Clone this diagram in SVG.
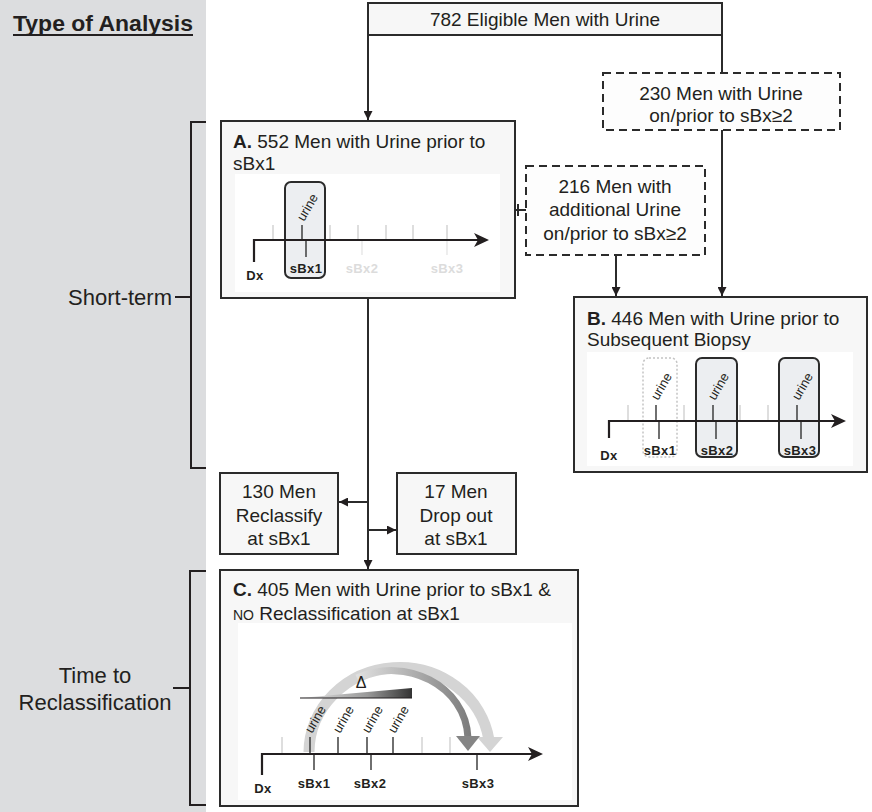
<svg xmlns="http://www.w3.org/2000/svg" width="872" height="812" viewBox="0 0 872 812">
<defs>
<style>
text{font-family:"Liberation Sans",Arial,sans-serif;fill:#231f20}
.t{font-size:19px}
.c{text-anchor:middle}
.box{fill:#f7f7f7;stroke:#2b2b2b;stroke-width:2}
.dash{fill:#fdfdfd;stroke:#2b2b2b;stroke-width:2;stroke-dasharray:8 5}
.panel{fill:#ffffff}
.ln{stroke:#2b2b2b;stroke-width:2;fill:none}
.ax{stroke:#231f20;stroke-width:2.2;fill:none}
.lt{stroke:#c8c8c8;stroke-width:1.2}
.dk{stroke:#333;stroke-width:1.4}
.fk{stroke:#e2e2e2;stroke-width:1.2}
.lab{font-size:13px;font-weight:bold;text-anchor:middle;letter-spacing:0.4px}
.fl{fill:#dcdcdc}
.ur{font-size:13px}
.rr{fill:#eceef1;stroke:#2b2b2b;stroke-width:2}
.br{stroke:#231f20;stroke-width:2;fill:none}
</style>
<marker id="ah" viewBox="0 0 10 10" refX="10" refY="5" markerWidth="9" markerHeight="9" markerUnits="userSpaceOnUse" orient="auto">
<path d="M0,0 L10,5 L0,10 z" fill="#231f20"/>
</marker>
<linearGradient id="wg" x1="0" y1="0" x2="1" y2="0">
<stop offset="0" stop-color="#e6e6e6"/>
<stop offset="0.6" stop-color="#9a9a9a"/>
<stop offset="1" stop-color="#333"/>
</linearGradient>
<linearGradient id="ag" gradientUnits="userSpaceOnUse" x1="357" y1="0" x2="470" y2="0">
<stop offset="0" stop-color="#e0e0e0"/>
<stop offset="1" stop-color="#7c7c7c"/>
</linearGradient>
</defs>

<g id="sidebar">
<rect x="0" y="0" width="206" height="812" fill="#dcdddf"/>
<text x="13" y="31" font-size="22" font-weight="bold" textLength="180" lengthAdjust="spacingAndGlyphs">Type of Analysis</text>
<line x1="13" y1="35" x2="193" y2="35" stroke="#231f20" stroke-width="2"/>
<path class="br" d="M206,122 H191 V468 H206 M191,297 H175"/>
<text x="172" y="305" font-size="22" text-anchor="end">Short-term</text>
<path class="br" d="M206,571 H190 V805 H206 M190,688 H173"/>
<text x="95" y="683" font-size="22" text-anchor="middle">Time to</text>
<text x="95" y="710" font-size="22" text-anchor="middle">Reclassification</text>
</g>

<g id="connectors">
<line class="ln" x1="368" y1="35" x2="368" y2="120" marker-end="url(#ah)"/>
<line class="ln" x1="722" y1="35" x2="722" y2="73"/>
<line class="ln" x1="722" y1="130" x2="722" y2="296" marker-end="url(#ah)"/>
<line class="ln" x1="515" y1="210" x2="526" y2="210"/>
<line class="ln" x1="518" y1="204" x2="518" y2="216"/>
<line class="ln" x1="616" y1="255" x2="616" y2="296" marker-end="url(#ah)"/>
<line class="ln" x1="368" y1="298" x2="368" y2="569" marker-end="url(#ah)"/>
<line class="ln" x1="368" y1="502" x2="339" y2="502" marker-end="url(#ah)"/>
<line class="ln" x1="368" y1="530" x2="396" y2="530" marker-end="url(#ah)"/>
</g>

<g id="n782">
<rect class="box" x="368" y="3" width="354" height="32"/>
<text class="t c" x="545" y="26">782 Eligible Men with Urine</text>
</g>

<g id="n230">
<rect class="dash" x="603" y="73" width="237" height="57"/>
<text class="t c" x="721" y="100">230 Men with Urine</text>
<text class="t c" x="721" y="122">on/prior to sBx≥2</text>
</g>

<g id="nA">
<rect class="box" x="221" y="121" width="294" height="177"/>
<text class="t" x="233" y="148"><tspan font-weight="bold">A.</tspan> 552 Men with Urine prior to</text>
<text class="t" x="233" y="170">sBx1</text>
<rect class="panel" x="235" y="174" width="265" height="118"/>
<rect class="rr" x="285" y="182" width="40" height="96" rx="6"/>
<g class="lt"><line x1="273" y1="225" x2="273" y2="240"/><line x1="330" y1="225" x2="330" y2="240"/><line x1="358" y1="225" x2="358" y2="240"/><line x1="386" y1="225" x2="386" y2="240"/><line x1="413" y1="225" x2="413" y2="240"/><line x1="447" y1="225" x2="447" y2="240"/></g>
<g class="fk"><line x1="362" y1="240" x2="362" y2="255"/><line x1="447" y1="240" x2="447" y2="255"/></g>
<line class="dk" x1="302" y1="225" x2="302" y2="240"/>
<line class="dk" x1="306" y1="240" x2="306" y2="257"/>
<text class="ur" x="304" y="222" transform="rotate(-60 304 222)">urine</text>
<path class="ax" d="M254,262 V240 H480"/>
<polygon points="489,240 474,233 478,240 474,247" fill="#231f20"/>
<text class="lab" x="255" y="280">Dx</text>
<text class="lab" x="306" y="273">sBx1</text>
<text class="lab fl" x="362" y="273">sBx2</text>
<text class="lab fl" x="447" y="273">sBx3</text>
</g>

<g id="n216">
<rect class="dash" x="526" y="166" width="179" height="89"/>
<text class="t c" x="615" y="193">216 Men with</text>
<text class="t c" x="615" y="216">additional Urine</text>
<text class="t c" x="615" y="240">on/prior to sBx≥2</text>
</g>

<g id="nB">
<rect class="box" x="574" y="297" width="293" height="175"/>
<text class="t" x="587" y="325"><tspan font-weight="bold">B.</tspan> 446 Men with Urine prior to</text>
<text class="t" x="587" y="346">Subsequent Biopsy</text>
<rect class="panel" x="587" y="352" width="266" height="114"/>
<rect x="643" y="358" width="34" height="99" rx="6" fill="none" stroke="#c4c4c4" stroke-width="1.5" stroke-dasharray="2 2"/>
<rect class="rr" x="696" y="358" width="41" height="99" rx="6"/>
<rect class="rr" x="779" y="358" width="40" height="99" rx="6"/>
<g class="lt"><line x1="628" y1="405" x2="628" y2="421"/><line x1="684" y1="405" x2="684" y2="421"/><line x1="740" y1="405" x2="740" y2="421"/><line x1="768" y1="405" x2="768" y2="421"/></g>
<g class="dk"><line x1="656" y1="405" x2="656" y2="421"/><line x1="713" y1="405" x2="713" y2="421"/><line x1="797" y1="405" x2="797" y2="421"/>
<line x1="659" y1="421" x2="659" y2="439"/><line x1="716" y1="421" x2="716" y2="439"/><line x1="801" y1="421" x2="801" y2="439"/></g>
<text class="ur" x="658" y="401" transform="rotate(-60 658 401)">urine</text>
<text class="ur" x="715" y="401" transform="rotate(-60 715 401)">urine</text>
<text class="ur" x="799" y="401" transform="rotate(-60 799 401)">urine</text>
<path class="ax" d="M609,438 V421 H837"/>
<polygon points="846,421 831,414 835,421 831,428" fill="#231f20"/>
<text class="lab" x="609" y="460">Dx</text>
<text class="lab" x="660" y="455">sBx1</text>
<text class="lab" x="717" y="455">sBx2</text>
<text class="lab" x="800" y="455">sBx3</text>
</g>

<g id="n130">
<rect class="box" x="220" y="473" width="118" height="81"/>
<text class="t c" x="279" y="498">130 Men</text>
<text class="t c" x="279" y="522">Reclassify</text>
<text class="t c" x="279" y="545">at sBx1</text>
</g>

<g id="n17">
<rect class="box" x="397" y="473" width="119" height="81"/>
<text class="t c" x="456" y="498">17 Men</text>
<text class="t c" x="456" y="522">Drop out</text>
<text class="t c" x="456" y="545">at sBx1</text>
</g>

<g id="nC">
<rect class="box" x="220" y="570" width="358" height="236"/>
<text class="t" x="233" y="596"><tspan font-weight="bold">C.</tspan> 405 Men with Urine prior to sBx1 &amp;</text>
<text class="t" x="233" y="620"><tspan font-size="14">NO</tspan> Reclassification at sBx1</text>
<rect class="panel" x="238" y="623" width="334" height="177"/>
<path d="M309,752 A90.5,85 0 0 1 489,740" fill="none" stroke="#d4d4d4" stroke-width="11"/>
<polygon points="477,737 503,737 490,752" fill="#d4d4d4"/>
<path d="M357,678 C405,656 466,685 468,738" fill="none" stroke="url(#ag)" stroke-width="7"/>
<polygon points="456,736 480,736 468,751" fill="#858585"/>
<polygon points="300,698 412,688 412,698" fill="url(#wg)"/>
<line x1="300" y1="698" x2="412" y2="698" stroke="#231f20" stroke-width="1.2"/>
<text x="361" y="688" font-size="16" text-anchor="middle">Δ</text>
<g class="lt"><line x1="282" y1="737" x2="282" y2="754"/><line x1="422" y1="737" x2="422" y2="754"/><line x1="450" y1="737" x2="450" y2="754"/></g>
<g class="dk"><line x1="310" y1="737" x2="310" y2="754"/><line x1="338" y1="737" x2="338" y2="754"/><line x1="367" y1="737" x2="367" y2="754"/><line x1="393" y1="737" x2="393" y2="754"/>
<line x1="314" y1="754" x2="314" y2="770"/><line x1="371" y1="754" x2="371" y2="770"/><line x1="477" y1="754" x2="477" y2="770"/></g>
<text class="ur" x="312" y="734" transform="rotate(-60 312 734)">urine</text>
<text class="ur" x="340" y="734" transform="rotate(-60 340 734)">urine</text>
<text class="ur" x="369" y="734" transform="rotate(-60 369 734)">urine</text>
<text class="ur" x="395" y="734" transform="rotate(-60 395 734)">urine</text>
<path class="ax" d="M262,775 V754 H534"/>
<polygon points="543,754 528,747 532,754 528,761" fill="#231f20"/>
<text class="lab" x="263" y="793">Dx</text>
<text class="lab" x="314" y="788">sBx1</text>
<text class="lab" x="370" y="788">sBx2</text>
<text class="lab" x="478" y="788">sBx3</text>
</g>
</svg>
